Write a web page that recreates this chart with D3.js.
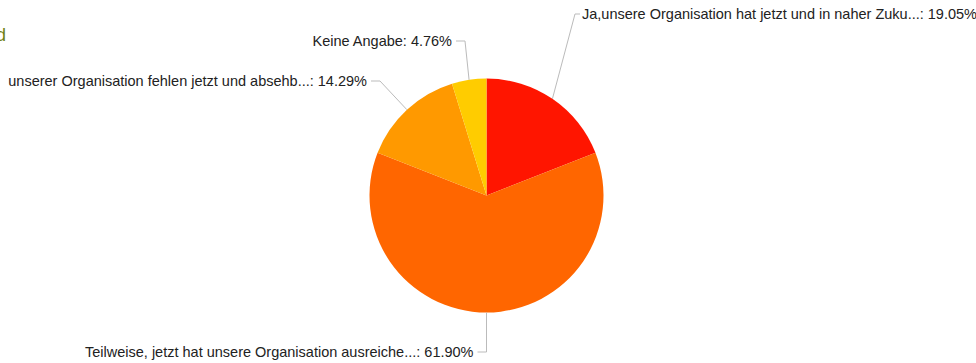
<!DOCTYPE html>
<html>
<head>
<meta charset="utf-8">
<script src="https://cdn.jsdelivr.net/npm/d3@7"></script>
<style>
  body { margin: 0; background: #fff; }
  svg { display: block; }
</style>
</head>
<body>
<div id="pie"></div>
<script>
// data: answers, clockwise from 12 o'clock
const categories = [
  'Ja,unsere Organisation hat jetzt und in naher Zuku...',
  'Teilweise, jetzt hat unsere Organisation ausreiche...',
  'unserer Organisation fehlen jetzt und absehb...',
  'Keine Angabe'
];
const shares = [19.05, 61.90, 14.29, 4.76];
const colors = ['#ff1500', '#ff6600', '#ff9900', '#ffcc00'];

// label elbow points (where the leader line turns horizontal) and side
const labelLayout = [
  {x: 575, y: 14, side: 'right'},
  {x: 486.5, y: 352, side: 'left'},
  {x: 380, y: 81, side: 'left'},
  {x: 465, y: 41, side: 'left'}
];

const width = 976, height = 363;
const cx = 486.5, cy = 195.5, radius = 117;

const svg = d3.select('#pie')
  .append('svg')
  .attr('width', width)
  .attr('height', height);

// clipped title remnant in the top-left corner (cut off in the original too)
svg.append('text')
  .attr('x', 6)
  .attr('y', 41)
  .attr('text-anchor', 'end')
  .attr('font-family', 'Liberation Sans, Arial, sans-serif')
  .attr('font-size', '18px')
  .attr('fill', '#6e7f14')
  .text('d');

const data = categories.map((c, i) => ({name: c, value: shares[i], color: colors[i], layout: labelLayout[i]}));

const pie = d3.pie().sort(null).value(d => d.value);
const arc = d3.arc().innerRadius(0).outerRadius(radius);
const edge = d3.arc().innerRadius(radius).outerRadius(radius);

const graph = svg.append('g')
  .attr('transform', `translate(${cx}, ${cy})`);

const arcs = pie(data);

graph.selectAll('path.slice')
  .data(arcs)
  .enter()
  .append('path')
  .attr('class', 'slice')
  .attr('d', arc)
  .attr('fill', d => d.data.color);

// leader lines + labels
const labels = svg.append('g');
arcs.forEach(a => {
  const p = edge.centroid(a);
  const l = a.data.layout;
  const endX = l.side === 'right' ? l.x + 5 : l.x - 9;
  labels.append('polyline')
    .attr('points', `${cx + p[0]},${cy + p[1]} ${l.x},${l.y} ${endX},${l.y}`)
    .attr('fill', 'none')
    .attr('stroke', '#bbbbbb')
    .attr('stroke-width', 1);
  labels.append('text')
    .attr('x', l.side === 'right' ? endX + 2 : endX - 4)
    .attr('y', l.y + 5)
    .attr('text-anchor', l.side === 'right' ? 'start' : 'end')
    .attr('font-family', 'Liberation Sans, Arial, sans-serif')
    .attr('font-size', '14.5px')
    .attr('fill', '#222')
    .text(`${a.data.name}: ${a.data.value.toFixed(2)}%`);
});
</script>
</body>
</html>
